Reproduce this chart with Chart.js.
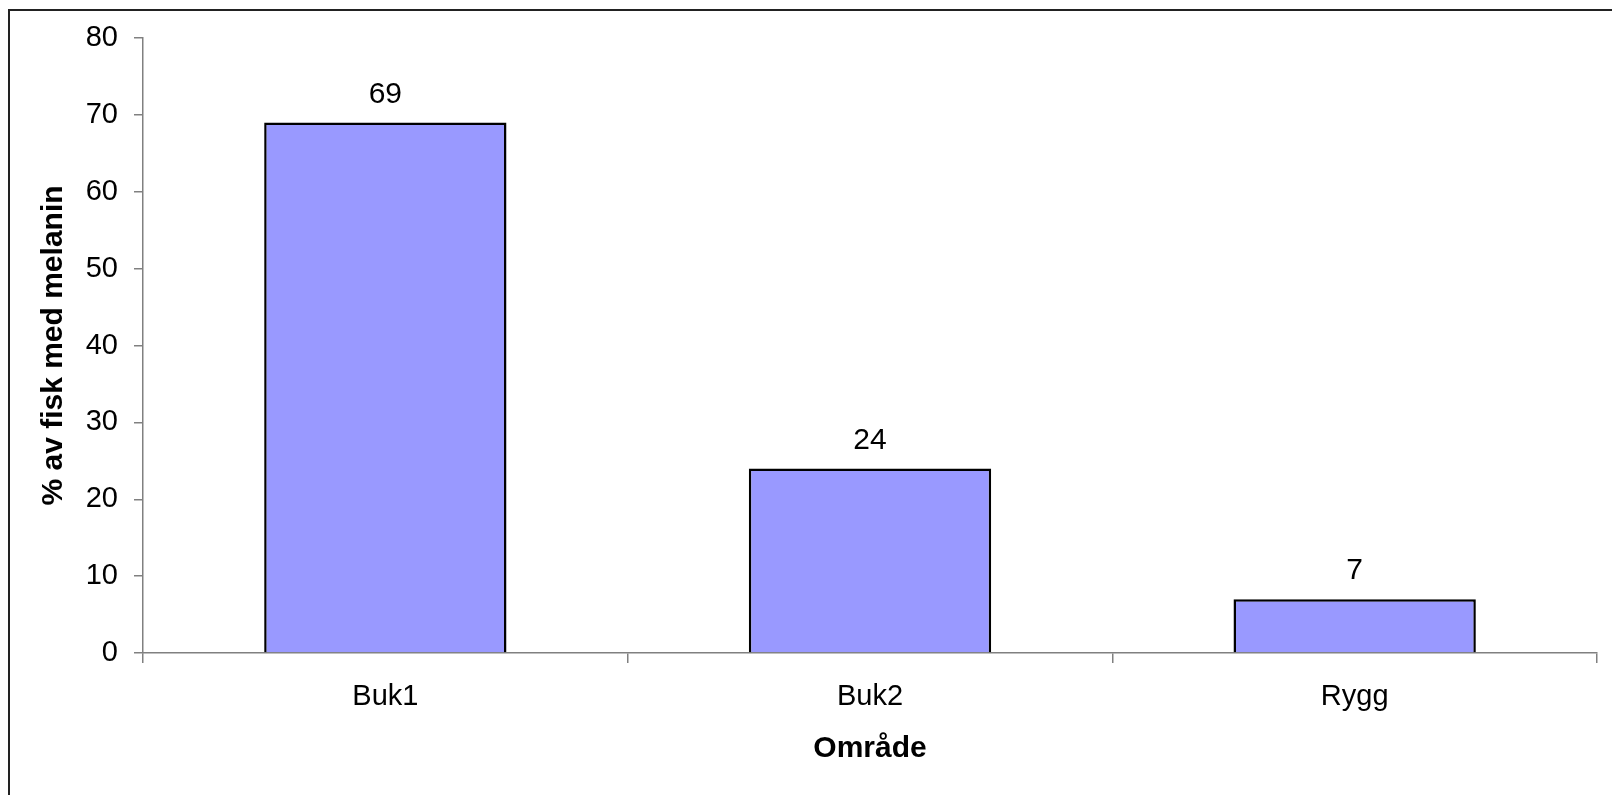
<!DOCTYPE html>
<html>
<head>
<meta charset="utf-8">
<script src="https://cdn.jsdelivr.net/npm/chart.js@4/dist/chart.umd.min.js"></script>
<style>
  html, body { margin: 0; padding: 0; background: #fff; overflow: hidden; width: 1612px; height: 795px; }
  #frame { position: absolute; left: 8px; top: 9px; width: 1700px; height: 900px; border-left: 2px solid #222; border-top: 2px solid #222; }
  #c { position: absolute; left: 0; top: 0; }
</style>
</head>
<body>
<div id="frame"></div>
<canvas id="c" width="1612" height="795"></canvas>
<script>
const categories = ['Buk1', 'Buk2', 'Rygg'];
const values = [69, 24, 7];
const yTicks = [0, 10, 20, 30, 40, 50, 60, 70, 80];
const yTitle = '% av fisk med melanin';
const xTitle = 'Område';

const FONT = 'Liberation Sans, Arial, sans-serif';

const valueLabels = {
  id: 'valueLabels',
  afterDatasetsDraw(chart) {
    const ctx = chart.ctx;
    const meta = chart.getDatasetMeta(0);
    ctx.save();
    ctx.font = '30px ' + FONT;
    ctx.fillStyle = '#000';
    ctx.textAlign = 'center';
    ctx.textBaseline = 'alphabetic';
    meta.data.forEach((bar, i) => {
      ctx.fillText(String(values[i]), bar.x, bar.y - 20);
    });
    ctx.restore();
  }
};

new Chart(document.getElementById('c'), {
  type: 'bar',
  data: {
    labels: categories,
    datasets: [{
      data: values,
      backgroundColor: '#9999FF',
      borderColor: '#000',
      borderWidth: 2.5,
      borderSkipped: 'bottom',
      barPercentage: 0.5,
      categoryPercentage: 1.0
    }]
  },
  options: {
    responsive: false,
    devicePixelRatio: 1,
    animation: false,
    layout: { padding: { top: 38, right: 15, left: 0, bottom: 0 } },
    plugins: { legend: { display: false }, tooltip: { enabled: false } },
    scales: {
      x: {
        afterFit(scale) { scale.height = 142; },
        grid: { offset: true, drawOnChartArea: false, drawTicks: true, tickLength: 10, color: '#808080', lineWidth: 1.5 },
        border: { display: true, color: '#808080', width: 1.5 },
        ticks: { color: '#000', font: { family: FONT, size: 29 }, padding: 17, maxRotation: 0 },
        title: { display: true, text: xTitle, color: '#000', font: { family: FONT, size: 30, weight: 'bold' }, padding: { top: 0, bottom: 28 } }
      },
      y: {
        min: 0, max: 80,
        afterFit(scale) { scale.width = 143; },
        afterBuildTicks(scale) { scale.ticks = yTicks.map(v => ({ value: v })); },
        grid: { drawOnChartArea: false, drawTicks: true, tickLength: 9, color: '#808080', lineWidth: 1.5 },
        border: { display: true, color: '#808080', width: 1.5 },
        ticks: { color: '#000', font: { family: FONT, size: 29 }, padding: 16 },
        title: { display: true, text: yTitle, color: '#000', font: { family: FONT, size: 30, weight: 'bold' }, padding: { top: 36, bottom: 0 } }
      }
    }
  },
  plugins: [valueLabels]
});
</script>
</body>
</html>
